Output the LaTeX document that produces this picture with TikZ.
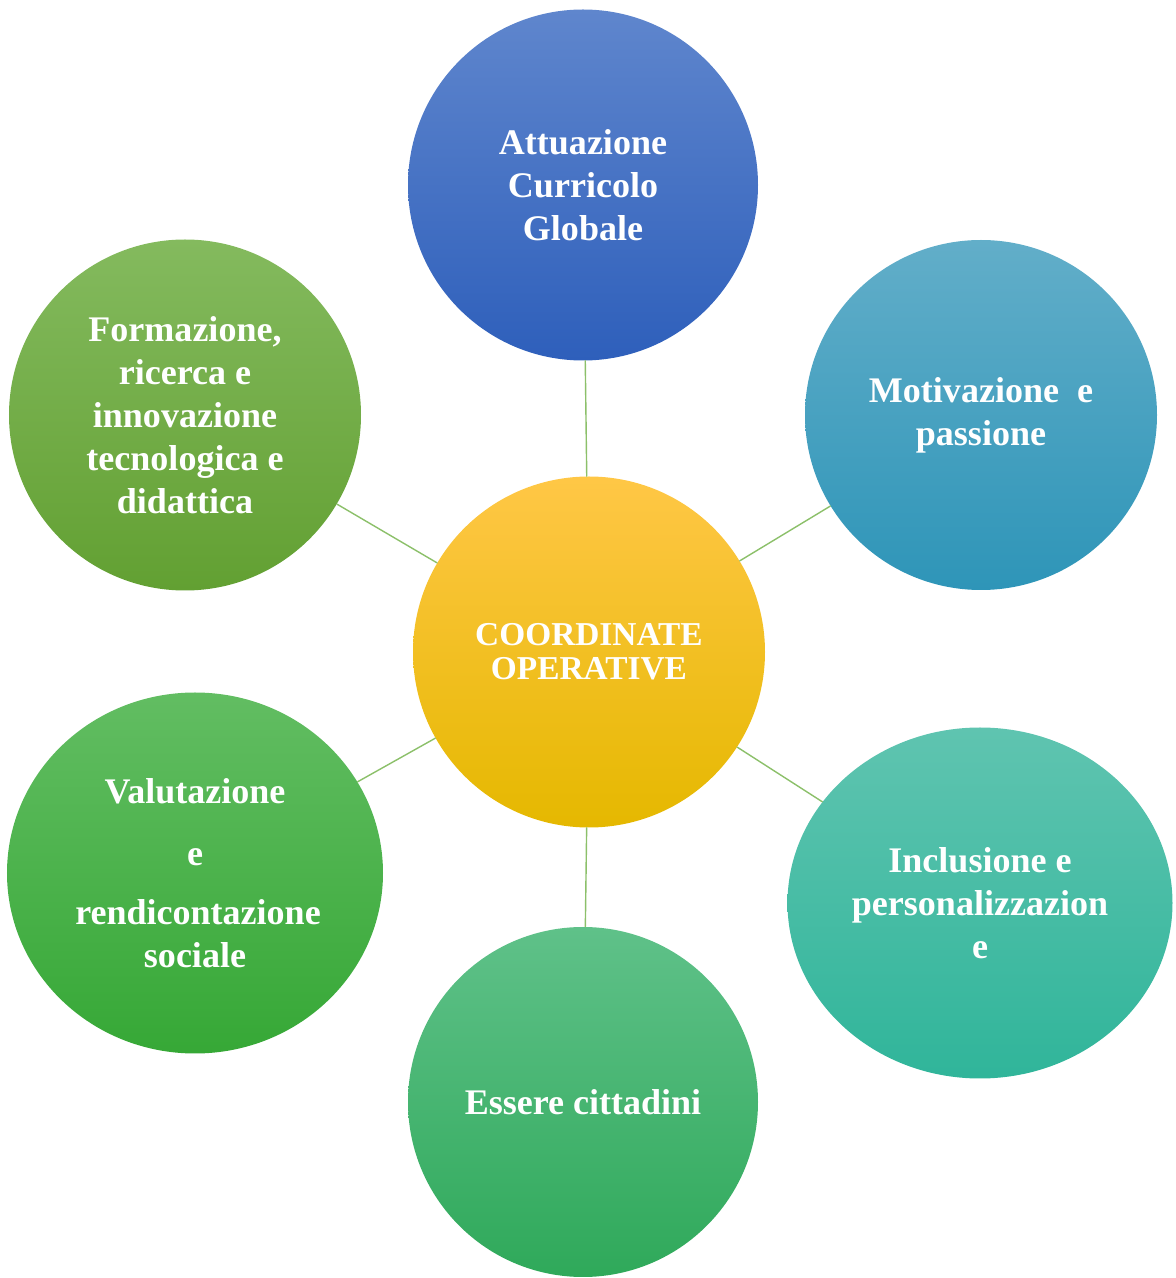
\documentclass[tikz,border=0pt]{standalone}
\usepackage{fontspec}
\setmainfont{Liberation Serif}
\usetikzlibrary{shapes.geometric}
\definecolor{linkgreen}{RGB}{140,192,106}
\tikzset{
	bubble/.style={ellipse,inner sep=0pt,align=center,text=white,
		font=\bfseries\fontsize{20.5}{24.4}\selectfont,shading=axis,shading angle=0},
	link/.style={draw=linkgreen,line width=0.8pt}
}
\begin{document}
\begin{tikzpicture}[line join=round,line cap=round]
		\useasboundingbox (0,0) rectangle (23.52,25.56);
		\node[bubble,minimum width=7.04cm,minimum height=7.02cm,font=\bfseries\fontsize{19}{19.5}\selectfont,
			top color={rgb,255:red,255;green,199;blue,70},middle color={rgb,255:red,255;green,198;blue,0},
			bottom color={rgb,255:red,229;green,184;blue,0}] (hub) at (11.78,12.52) {COORDINATE\\OPERATIVE};
		\node[bubble,minimum width=7.0cm,minimum height=7.02cm,
			top color={rgb,255:red,95;green,134;blue,205},bottom color={rgb,255:red,46;green,95;blue,187}]
			(curricolo) at (11.66,21.86) {Attuazione\\Curricolo\\Globale};
		\node[bubble,minimum width=7.04cm,minimum height=7.0cm,
			top color={rgb,255:red,98;green,174;blue,201},bottom color={rgb,255:red,46;green,149;blue,184}]
			(motivazione) at (19.62,17.26) {Motivazione~~e\\passione};
		\node[bubble,minimum width=7.7cm,minimum height=7.02cm,
			top color={rgb,255:red,95;green,196;blue,176},bottom color={rgb,255:red,48;green,181;blue,154}]
			(inclusione) at (19.60,7.50) {Inclusione e\\personalizzazion\\e};
		\node[bubble,minimum width=7.0cm,minimum height=7.0cm,
			top color={rgb,255:red,95;green,193;blue,137},bottom color={rgb,255:red,47;green,169;blue,90}]
			(cittadini) at (11.66,3.52) {Essere cittadini};
		\node[bubble,minimum width=7.52cm,minimum height=7.22cm,
			top color={rgb,255:red,98;green,189;blue,98},bottom color={rgb,255:red,54;green,168;blue,54}]
			(valutazione) at (3.90,8.10) {Valutazione\\[11pt]e\\[9pt]\,rendicontazione\\sociale};
		\node[bubble,minimum width=7.04cm,minimum height=7.02cm,
			top color={rgb,255:red,132;green,186;blue,94},bottom color={rgb,255:red,98;green,160;blue,50}]
			(formazione) at (3.70,17.26) {Formazione,\\ricerca e\\innovazione\\tecnologica e\\didattica};
		\foreach \n in {curricolo,motivazione,inclusione,cittadini,valutazione,formazione}
		\draw[link] (hub)--(\n);
		\end{tikzpicture}
\end{document}
